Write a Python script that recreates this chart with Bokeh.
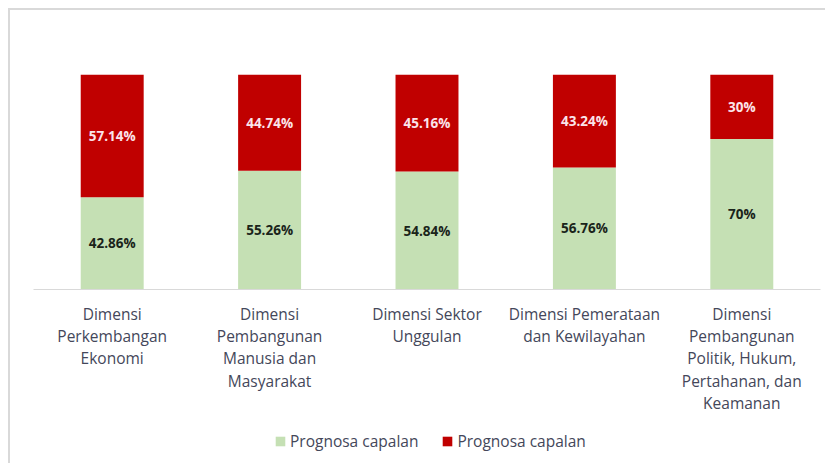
from bokeh.plotting import figure
from bokeh.layouts import column
from bokeh.models import ColumnDataSource, FactorRange, Legend, LegendItem, LabelSet
from bokeh.core.properties import value
from bokeh.embed import file_html
from bokeh.resources import INLINE

categories = [
    "Dimensi\nPerkembangan\nEkonomi",
    "Dimensi\nPembangunan\nManusia dan\nMasyarakat",
    "Dimensi Sektor\nUnggulan",
    "Dimensi Pemerataan\ndan Kewilayahan",
    "Dimensi\nPembangunan\nPolitik, Hukum,\nPertahanan, dan\nKeamanan",
]
green_values = [42.86, 55.26, 54.84, 56.76, 70]
red_values = [57.14, 44.74, 45.16, 43.24, 30]
green_labels = ["42.86%", "55.26%", "54.84%", "56.76%", "70%"]
red_labels = ["57.14%", "44.74%", "45.16%", "43.24%", "30%"]
series_names = ["Prognosa capalan", "Prognosa capalan"]

GREEN = "#C5E0B4"
RED = "#C00000"
FONT = "Open Sans"
TEXT = "#44475a"

src = ColumnDataSource(dict(
    cat=categories,
    green=green_values,
    red=red_values,
    gmid=[g / 2 for g in green_values],
    rmid=[g + r / 2 for g, r in zip(green_values, red_values)],
    glab=green_labels,
    rlab=red_labels,
))

p = figure(
    x_range=FactorRange(*categories, range_padding=0),
    y_range=(0, 100),
    width=815, height=415,
    output_backend="svg", toolbar_location=None,
    min_border_left=23, min_border_right=5, min_border_top=64, min_border_bottom=136,
)
p.outline_line_color = None
p.grid.visible = False
p.yaxis.visible = False

r = p.vbar_stack(["green", "red"], x="cat", width=0.4, source=src,
                 color=[GREEN, RED], line_color=None)

p.add_layout(LabelSet(x="cat", y="gmid", text="glab", source=src,
                      text_align="center", text_baseline="middle",
                      text_font=value(FONT), text_font_size="13.5px", text_font_style="bold",
                      text_color="#1a241a"))
p.add_layout(LabelSet(x="cat", y="rmid", text="rlab", source=src,
                      text_align="center", text_baseline="middle",
                      text_font=value(FONT), text_font_size="13.5px", text_font_style="bold",
                      text_color="#fbe4ea"))

ax = p.xaxis[0]
ax.axis_line_color = "#d9d9d9"
ax.axis_line_width = 1
ax.major_tick_line_color = None
ax.minor_tick_line_color = None
ax.major_label_text_font = FONT
ax.major_label_text_font_size = "15.5px"
ax.major_label_text_color = TEXT
ax.major_label_text_line_height = 1.02
ax.major_label_standoff = 7

# legend strip (dummy swatch renderers lie outside the visible range)
p2 = figure(width=815, height=38, x_range=(0, 1), y_range=(0, 1),
            output_backend="svg", toolbar_location=None,
            min_border_left=0, min_border_right=0, min_border_top=0, min_border_bottom=0)
p2.axis.visible = False
p2.grid.visible = False
p2.outline_line_color = None
lg = p2.quad(left=[-3], right=[-2], top=[-2], bottom=[-3], color=GREEN, line_color=None)
lr = p2.quad(left=[-3], right=[-2], top=[-2], bottom=[-3], color=RED, line_color=None)

legend = Legend(items=[
    LegendItem(label=series_names[0], renderers=[lg]),
    LegendItem(label=series_names[1], renderers=[lr]),
], orientation="horizontal", location=(241, 11))
legend.label_text_font = FONT
legend.label_text_font_size = "15.5px"
legend.label_text_color = TEXT
legend.glyph_width = 12
legend.glyph_height = 12
legend.label_standoff = 4
legend.spacing = 23
legend.padding = 0
legend.margin = 0
legend.border_line_color = None
legend.background_fill_alpha = 0
p2.add_layout(legend)

layout = column(p, p2, spacing=0)
layout.styles = {"margin-left": "8px", "margin-top": "8px",
                 "border-left": "2px solid #d9d9d9", "border-top": "2px solid #d9d9d9"}

open("out.html", "w").write(file_html(layout, INLINE))
